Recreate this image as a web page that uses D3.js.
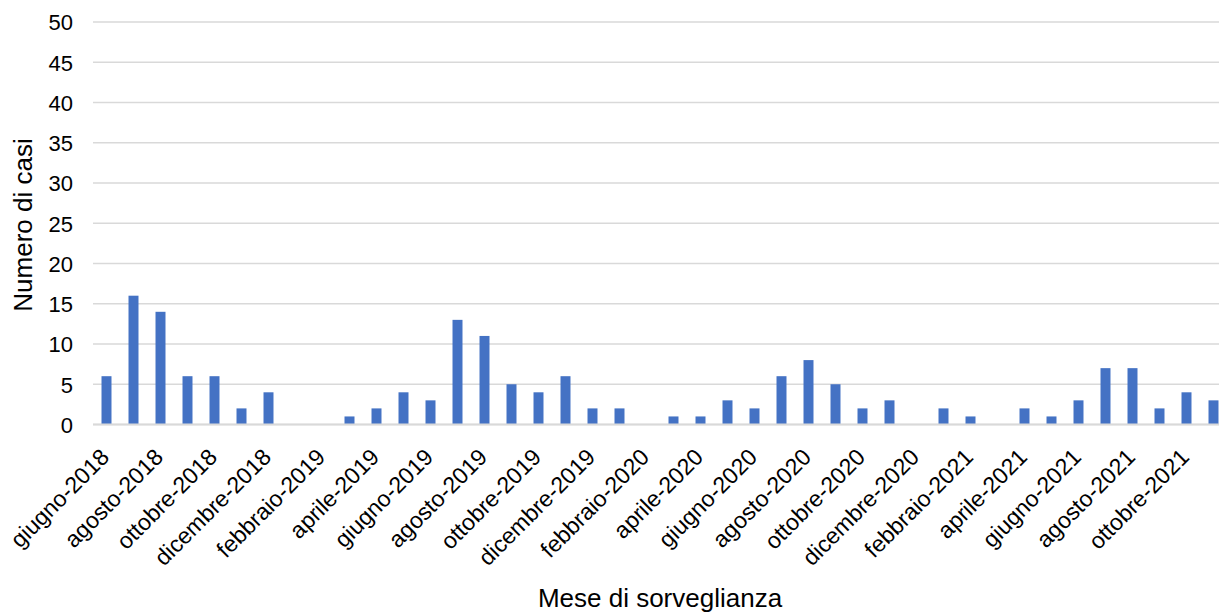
<!DOCTYPE html>
<html>
<head>
<meta charset="utf-8">
<script src="https://cdn.jsdelivr.net/npm/d3@7"></script>
<style>
  html, body { margin: 0; padding: 0; background: #fff; }
  svg { display: block; font-family: "Liberation Sans", Arial, sans-serif; }
</style>
</head>
<body>
<svg id="chart" width="1219" height="612"></svg>
<script>
// Monthly surveillance months, June 2018 - November 2021
const months = [
  "giugno-2018","luglio-2018","agosto-2018","settembre-2018","ottobre-2018","novembre-2018","dicembre-2018",
  "gennaio-2019","febbraio-2019","marzo-2019","aprile-2019","maggio-2019","giugno-2019","luglio-2019",
  "agosto-2019","settembre-2019","ottobre-2019","novembre-2019","dicembre-2019",
  "gennaio-2020","febbraio-2020","marzo-2020","aprile-2020","maggio-2020","giugno-2020","luglio-2020",
  "agosto-2020","settembre-2020","ottobre-2020","novembre-2020","dicembre-2020",
  "gennaio-2021","febbraio-2021","marzo-2021","aprile-2021","maggio-2021","giugno-2021","luglio-2021",
  "agosto-2021","settembre-2021","ottobre-2021","novembre-2021"
];

// Number of cases per month
const cases = [
  6, 16, 14, 6, 6, 2, 4,
  0, 0, 1, 2, 4, 3, 13,
  11, 5, 4, 6, 2,
  2, 0, 1, 1, 3, 2, 6,
  8, 5, 2, 3, 0,
  2, 1, 0, 2, 1, 3, 7,
  7, 2, 4, 3
];

const yTicks = [0, 5, 10, 15, 20, 25, 30, 35, 40, 45, 50];

const svg = d3.select("#chart");
const plotLeft = 93, plotRight = 1227, plotTop = 22, plotBottom = 424.5;

const x = d3.scaleBand().domain(months).range([plotLeft, plotRight]).paddingInner(0.63).paddingOuter(0.315);
const y = d3.scaleLinear().domain([0, 50]).range([plotBottom, plotTop]);

// Horizontal gridlines
svg.append("g")
  .selectAll("line")
  .data(yTicks)
  .join("line")
  .attr("x1", plotLeft).attr("x2", 1219)
  .attr("y1", d => y(d)).attr("y2", d => y(d))
  .attr("stroke", "#d9d9d9")
  .attr("stroke-width", 1.5);

// Y axis tick labels
const yAxis = d3.axisLeft(y).tickValues(yTicks).tickSize(0).tickPadding(0);
svg.append("g")
  .attr("transform", `translate(73,0)`)
  .call(yAxis)
  .call(g => g.select(".domain").remove())
  .selectAll("text")
  .attr("font-size", 22)
  .attr("font-family", "Liberation Sans, Arial, sans-serif")
  .attr("fill", "#000")
  .attr("dy", "0.36em");

// Bars
svg.append("g")
  .selectAll("rect")
  .data(months.map((m, i) => ({ m, v: cases[i] })))
  .join("rect")
  .attr("x", d => x(d.m))
  .attr("width", x.bandwidth())
  .attr("y", d => y(d.v))
  .attr("height", d => y(0) - y(d.v))
  .attr("fill", "#4472c4");

// Baseline
svg.append("line")
  .attr("x1", plotLeft).attr("x2", 1219)
  .attr("y1", y(0)).attr("y2", y(0))
  .attr("stroke", "#d9d9d9").attr("stroke-width", 2);

// X axis labels: every second month, rotated
const xAxis = d3.axisBottom(x)
  .tickValues(months.filter((m, i) => i % 2 === 0))
  .tickSize(0).tickPadding(0);
svg.append("g")
  .attr("transform", `translate(0,${plotBottom})`)
  .call(xAxis)
  .call(g => g.select(".domain").remove())
  .selectAll("text")
  .attr("font-size", 23)
  .attr("font-family", "Liberation Sans, Arial, sans-serif")
  .attr("fill", "#000")
  .attr("text-anchor", "end")
  .attr("dy", null)
  .attr("y", 0)
  .attr("transform", "translate(4,34) rotate(-45)");

// Axis titles
svg.append("text")
  .attr("x", 660).attr("y", 607)
  .attr("text-anchor", "middle")
  .attr("font-size", 26)
  .attr("fill", "#000")
  .text("Mese di sorveglianza");

svg.append("text")
  .attr("transform", "translate(32,225) rotate(-90)")
  .attr("text-anchor", "middle")
  .attr("font-size", 26)
  .attr("fill", "#000")
  .text("Numero di casi");
</script>
</body>
</html>
